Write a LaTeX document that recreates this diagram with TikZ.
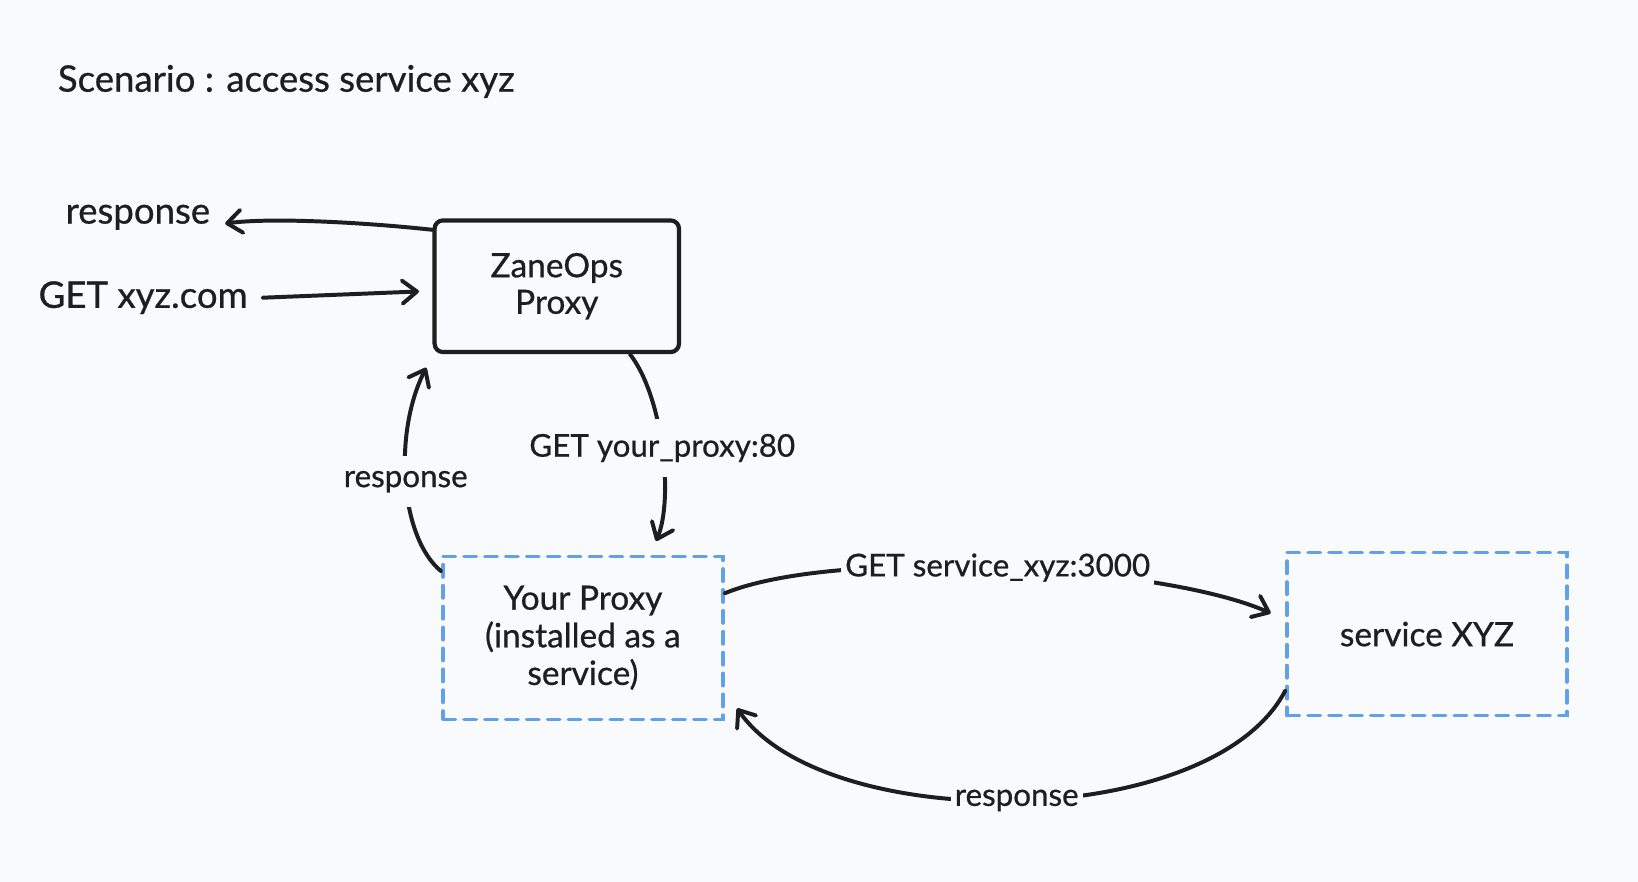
\documentclass[tikz,border=0pt]{standalone}
\usepackage{fontspec}
\setmainfont{Lato}[BoldFont=Lato, BoldFeatures={FakeBold=0.7}]
\usetikzlibrary{arrows.meta}
\definecolor{bg}{HTML}{F9FAFB}
\definecolor{ink}{HTML}{1E1E1E}
\definecolor{dashblue}{HTML}{62A0EA}
\tikzstyle{arrow} = [draw=ink, line width=1.9pt, line cap=round, -{Straight Barb[round,length=7pt,width=11pt]}]
\tikzstyle{mBox} = [rectangle, draw=ink, line width=2pt, rounded corners=4pt, minimum width=117pt, minimum height=63pt, align=center, text=ink, font=\bfseries\fontsize{16}{17.5}\selectfont]
\tikzstyle{dBox} = [rectangle, draw=dashblue, line width=1.6pt, line cap=round, dash pattern=on 6pt off 4pt, minimum width=134pt, minimum height=78pt, align=center, text=ink, font=\bfseries\fontsize{16}{18}\selectfont]

\begin{document}
\begin{tikzpicture}[x=0.5pt, y=-0.5pt, bigtxt/.style={text=ink, inner sep=7pt, font=\bfseries\fontsize{17.5}{20}\selectfont}, lbl/.style={text=ink, fill=bg, inner xsep=2pt, inner ysep=7pt, font=\bfseries\fontsize{15}{17}\selectfont}]
        \fill[bg] (0,0) rectangle (1568,844);
        \useasboundingbox (0,0) rectangle (1568,844);

        \node[bigtxt, anchor=west, inner sep=0pt] (title) at (55,78) {Scenario : access service xyz};
        \node[bigtxt] (resp1) at (132,208) {response};
        \node[bigtxt] (gx) at (137,285) {GET xyz.com};

        \node[mBox] (zp) at (533,274) {ZaneOps\\Proxy};
        \node[dBox] (yp) at (558,610.5) {Your Proxy\\(installed as a\\service)};
        \node[dBox] (xyz) at (1366,607) {service XYZ};

        \draw[arrow] ([shift={(0,11)}]zp.north west) .. controls (350,213) and (260,208) .. ([shift={(0,6)}]resp1.east);
        \draw[arrow] (gx.east) -- ([shift={(-13,5)}]zp.west);

        \draw[arrow] ([shift={(70,0)}]zp.south) .. controls (635,380) and (645,478) .. node[lbl] {GET your\_proxy:80} ([shift={(70,-13)}]yp.north);
        \draw[arrow] ([shift={(0,16)}]yp.north west) .. controls (383,515) and (376,415) .. node[lbl] {response} ([shift={(-6,13)}]zp.south west);

        \draw[arrow] ([shift={(0,-42.5)}]yp.east) .. controls (800,524) and (1110,540) .. node[lbl] {GET service\_xyz:3000} ([shift={(-14,-20)}]xyz.west);
        \draw[arrow] ([shift={(0,54)}]xyz.west) .. controls (1160,797) and (790,800) .. node[lbl] {response} ([shift={(12,-12)}]yp.south east);
\end{tikzpicture}
\end{document}
